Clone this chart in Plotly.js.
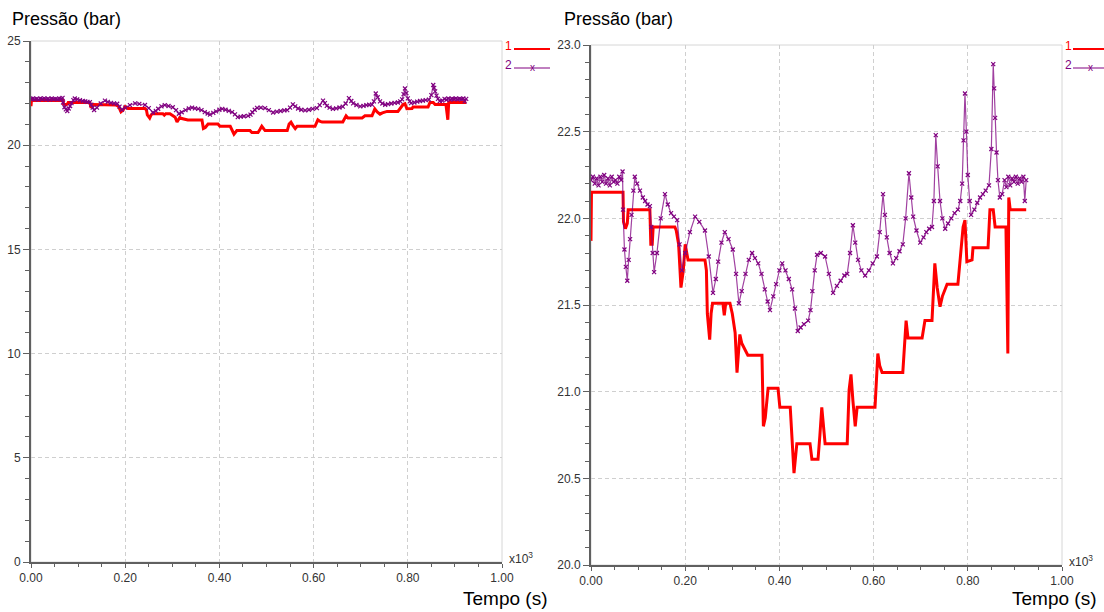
<!DOCTYPE html>
<html>
<head>
<meta charset="utf-8">
<script src="https://cdn.plot.ly/plotly-3.0.1.min.js"></script>
<style>html,body{margin:0;padding:0;background:#fff;}#chart{width:1104px;height:612px;}</style>
</head>
<body>
<div id="chart"></div>
<script>
// ---- data (time in seconds, pressure in bar) ----
const seriesNames = ["1", "2"];
const timeRed = [0,1,68,69,73,77,79,125,127,130,
  132,178,181,186,191,196,200,206,242,245,
  247,252,255,258,280,283,286,295,300,306,
  310,316,320,333,363,366,370,376,397,401,
  423,431,437,465,469,482,486,490,497,544,
  548,552,556,561,565,603,609,613,618,662,
  669,673,703,709,724,730,735,741,746,756,
  779,790,794,798,809,811,843,847,854,858,
  881,885,887,890,924];
const pressRed = [21.87,22.15,22.15,21.98,21.94,21.97,22.05,22.05,21.85,21.85,
  21.95,21.95,21.93,21.85,21.60,21.70,21.85,21.76,21.76,21.70,
  21.45,21.30,21.45,21.51,21.51,21.44,21.51,21.51,21.45,21.34,
  21.11,21.33,21.28,21.21,21.21,20.80,20.85,21.02,21.02,20.91,
  20.91,20.53,20.70,20.70,20.61,20.61,20.75,20.91,20.70,20.70,
  21.01,21.10,20.95,20.80,20.91,20.91,21.22,21.15,21.11,21.11,
  21.41,21.31,21.31,21.41,21.41,21.74,21.60,21.49,21.55,21.62,
  21.62,21.95,21.99,21.75,21.76,21.83,21.83,22.05,22.05,21.95,
  21.95,21.22,22.12,22.05,22.05];
const timePurple = [0,4,8,12,16,20,24,28,32,36,
  40,44,48,52,56,60,64,67,68,71,
  74,77,80,83,86,90,93,98,104,110,
  115,120,125,128,131,134,140,148,157,163,
  170,176,183,188,193,200,210,221,230,242,
  250,259,265,270,277,284,292,301,308,314,
  320,328,335,342,348,355,362,369,375,380,
  387,393,400,406,413,420,427,433,439,445,
  452,461,466,470,475,480,488,497,505,514,
  522,530,538,544,550,556,561,567,574,582,
  590,598,607,613,620,624,628,634,641,648,
  655,662,668,675,680,684,691,699,706,712,
  718,724,728,732,736,741,746,752,758,765,
  772,779,784,788,791,794,797,800,804,807,
  814,820,826,832,838,845,850,854,856,858,
  861,864,868,873,878,882,886,890,894,898,
  902,906,910,914,918,921,924];
const pressPurple = [22.22,22.24,22.20,22.23,22.19,22.24,22.21,22.25,22.20,22.23,
  22.19,22.24,22.21,22.22,22.20,22.24,22.22,22.27,22.05,21.82,
  21.72,21.64,21.76,21.88,22.02,22.16,22.24,22.20,22.16,22.12,
  22.10,22.08,22.07,21.95,21.80,21.69,21.80,22.00,22.14,22.08,
  22.03,22.01,21.99,21.85,21.70,21.80,21.92,22.01,21.98,21.93,
  21.78,21.57,21.65,21.75,21.86,21.92,21.88,21.82,21.68,21.51,
  21.58,21.68,21.76,21.80,21.77,21.74,21.68,21.59,21.52,21.47,
  21.55,21.62,21.70,21.74,21.70,21.65,21.59,21.48,21.35,21.37,
  21.39,21.41,21.47,21.58,21.70,21.79,21.80,21.78,21.68,21.57,
  21.61,21.64,21.67,21.68,21.80,21.96,21.86,21.76,21.70,21.67,
  21.70,21.74,21.78,21.92,22.14,22.02,21.89,21.80,21.74,21.77,
  21.81,21.85,22.00,22.26,22.12,22.01,21.93,21.86,21.89,21.92,
  21.94,21.95,22.10,22.48,22.30,22.10,22.00,21.94,21.97,22.00,
  22.03,22.05,22.10,22.20,22.45,22.72,22.50,22.25,22.10,22.02,
  22.05,22.09,22.12,22.14,22.16,22.19,22.40,22.89,22.75,22.58,
  22.38,22.22,22.12,22.14,22.22,22.18,22.24,22.19,22.23,22.21,
  22.24,22.20,22.23,22.21,22.24,22.10,22.22];
const xTickVals = [0, 0.2, 0.4, 0.6, 0.8, 1.0];
const yRangeLeft = [0, 25];
const yRangeRight = [20, 23];
const yTitle = "Pressão (bar)";
const xTitle = "Tempo (s)";

// ---- drawing ----
const W = 1104, H = 612;
const RED = "#ff0000", PURPLE = "#800080";
const FONT = "Liberation Sans, Arial, sans-serif";
const ks = a => a.map(t => t / 1000);

function redTrace(xa, ya) {
  return {x: ks(timeRed), y: pressRed, xaxis: xa, yaxis: ya, type: "scatter", mode: "lines",
    name: seriesNames[0], line: {color: RED, width: 3}, hoverinfo: "skip"};
}
function purpleTrace(xa, ya) {
  return {x: ks(timePurple), y: pressPurple, xaxis: xa, yaxis: ya, type: "scatter", mode: "lines+markers",
    name: seriesNames[1], line: {color: "rgba(128,0,128,0.75)", width: 1.2},
    marker: {symbol: "x-thin", size: 4, line: {color: PURPLE, width: 1.2}, color: PURPLE}, hoverinfo: "skip"};
}

const data = [redTrace("x", "y"), purpleTrace("x", "y"), redTrace("x2", "y2"), purpleTrace("x2", "y2")];

function xAxis(domain, anchor) {
  return {domain: domain, anchor: anchor, range: [0, 1], tickvals: xTickVals, tickformat: ".2f",
    showline: true, linecolor: "#606060", linewidth: 2, ticks: "outside", ticklen: 4, tickcolor: "#606060",
    minor: {dtick: 0.05, tick0: 0, ticks: "outside", ticklen: 3, tickcolor: "#606060", showgrid: false},
    showgrid: true, gridcolor: "#cfcfcf", griddash: "4px,3px", gridwidth: 1, zeroline: false,
    tickfont: {family: FONT, size: 12, color: "#333"}, fixedrange: true};
}
function yAxis(domain, anchor, range, dtick, mdtick, fmt) {
  return {domain: domain, anchor: anchor, range: range, dtick: dtick, tick0: range[0], tickformat: fmt,
    showline: true, linecolor: "#606060", linewidth: 2, ticks: "outside", ticklen: 6, tickcolor: "#606060",
    ticklabelstandoff: 0,
    minor: {dtick: mdtick, tick0: range[0], ticks: "outside", ticklen: 4, tickcolor: "#606060", showgrid: false},
    showgrid: true, gridcolor: "#cfcfcf", griddash: "4px,3px", gridwidth: 1, zeroline: false,
    tickfont: {family: FONT, size: 12, color: "#333"}, fixedrange: true};
}
const px = v => v / W, py = v => 1 - v / H;

const L = {x0: 31, x1: 502, top: 41, bottom: 562};
const R = {x0: 591, x1: 1062, top: 45, bottom: 565};

function frame(xr, yr) {
  return {type: "rect", xref: xr + " domain", yref: yr + " domain", x0: 0, x1: 1, y0: 0, y1: 1,
    line: {color: "#d6d6d6", width: 1}, layer: "below"};
}
function legendShapes(x0, x1) {
  return [
    {type: "line", xref: "paper", yref: "paper", x0: px(x0), x1: px(x1), y0: py(49), y1: py(49), line: {color: RED, width: 2}},
    {type: "line", xref: "paper", yref: "paper", x0: px(x0), x1: px(x1), y0: py(68), y1: py(68), line: {color: PURPLE, width: 1}}
  ];
}
function legendAnn(xText, xMark) {
  return [
    {xref: "paper", yref: "paper", x: px(xText), y: py(46), text: "1", showarrow: false, xanchor: "center", yanchor: "middle", font: {family: FONT, size: 12, color: RED}},
    {xref: "paper", yref: "paper", x: px(xText), y: py(65), text: "2", showarrow: false, xanchor: "center", yanchor: "middle", font: {family: FONT, size: 12, color: PURPLE}},
    {xref: "paper", yref: "paper", x: px(xMark), y: py(67), text: "x", showarrow: false, xanchor: "center", yanchor: "middle", font: {family: FONT, size: 10, color: PURPLE}}
  ];
}
function texts(plot, titleX, tempoRight) {
  return [
    {xref: "paper", yref: "paper", x: px(titleX), y: py(19), text: yTitle, showarrow: false, xanchor: "left", yanchor: "middle", font: {family: FONT, size: 18, color: "#000"}},
    {xref: "paper", yref: "paper", x: px(tempoRight), y: py(598), text: xTitle, showarrow: false, xanchor: "right", yanchor: "middle", font: {family: FONT, size: 19, color: "#000"}},
    {xref: "paper", yref: "paper", x: px(plot.x1 + 5), y: py(plot.bottom - 4), text: "x10<sup>3</sup>", showarrow: false, xanchor: "left", yanchor: "middle", font: {family: FONT, size: 12, color: "#333"}}
  ];
}

const layout = {
  width: W, height: H, margin: {l: 0, r: 0, t: 0, b: 0}, paper_bgcolor: "#fff", plot_bgcolor: "#fff",
  showlegend: false, font: {family: FONT},
  xaxis: xAxis([px(L.x0), px(L.x1)], "y"),
  yaxis: yAxis([py(L.bottom), py(L.top)], "x", yRangeLeft, 5, 1, "d"),
  xaxis2: xAxis([px(R.x0), px(R.x1)], "y2"),
  yaxis2: yAxis([py(R.bottom), py(R.top)], "x2", yRangeRight, 0.5, 0.1, ".1f"),
  shapes: [frame("x", "y"), frame("x2", "y2")].concat(legendShapes(514, 550), legendShapes(1073, 1104)),
  annotations: [].concat(texts(L, 10, 549), texts(R, 562, 1098), legendAnn(508, 532), legendAnn(1068, 1090))
};

Plotly.newPlot("chart", data, layout, {staticPlot: true, displayModeBar: false});
</script>
</body>
</html>
